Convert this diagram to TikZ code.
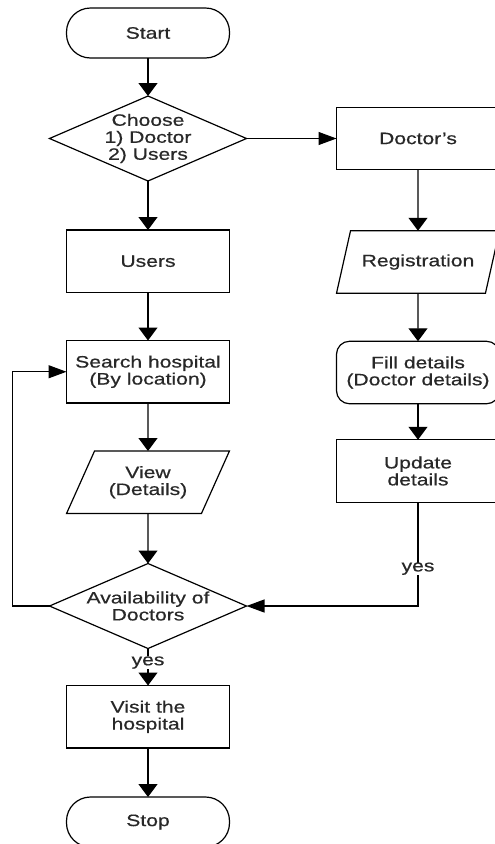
\documentclass[tikz,border=0pt]{standalone}
\usepackage{fontspec}
\setmainfont{Liberation Sans}[FakeStretch=1.28,FakeBold=0.6]
\usetikzlibrary{positioning,shapes.geometric,arrows.meta}
\definecolor{txtgray}{RGB}{40,40,40}

\tikzset{
  base/.style={draw, line width=1.2pt, outer sep=0pt, text=txtgray, align=center, inner sep=3pt,
    font=\fontsize{16.5pt}{17pt}\selectfont},
  terminal/.style={base, rectangle, rounded corners=24pt, minimum width=163pt, minimum height=50pt},
  process/.style={base, rectangle, minimum width=163pt, minimum height=62.5pt},
  roundproc/.style={process, rounded corners=13pt},
  io/.style={base, trapezium, trapezium left angle=60, trapezium right angle=120,
    trapezium stretches=true, minimum width=163pt, minimum height=62.5pt},
  decision/.style={base, diamond, aspect=2.32, inner sep=-4pt, minimum width=197pt, minimum height=85pt},
  vtip/.style={line width=1.2pt, -{Triangle[length=13pt,width=19pt]}},
  htip/.style={line width=1.2pt, -{Triangle[length=18pt,width=13pt]}},
  yeslbl/.style={fill=white, text=txtgray, inner sep=0pt, font=\fontsize{16.5pt}{17pt}\selectfont},
}

\begin{document}
\begin{tikzpicture}
  \useasboundingbox (0,0) rectangle (495pt,-844pt);

  % left column
  \node [terminal] (start) at (148pt,-33pt) {Start};
  \node [decision, below=38pt of start] (choose) {Choose\\1) Doctor\\2) Users};
  \node [process, below=49pt of choose] (users) {Users};
  \node [process, below=48pt of users] (search) {Search hospital\\(By location)};
  \node [io, below=48pt of search] (view) {View\\(Details)};
  \node [decision, below=50pt of view] (avail) {Availability of\\Doctors};
  \node [process, below=37pt of avail] (visit) {Visit the\\hospital};
  \node [terminal, below=49pt of visit] (stop) {Stop};

  % right column
  \node [process, right=90pt of choose] (doctors) {Doctor\symbol{"27}s};
  \node [io, below=61pt of doctors] (reg) {Registration};
  \node [roundproc, below=48pt of reg] (fill) {Fill details\\(Doctor details)};
  \node [process, below=36pt of fill] (update) {Update\\details};

  \draw [vtip] (start) -- (choose);
  \draw [vtip] (choose) -- (users);
  \draw [vtip] (users) -- (search);
  \draw [vtip] (search) -- (view);
  \draw [vtip] (view) -- (avail);
  \draw [vtip] (avail) -- node [yeslbl, pos=0.38] {yes} (visit);
  \draw [vtip] (visit) -- (stop);

  \draw [htip] (choose) -- (doctors);
  \draw [vtip] (doctors) -- (reg);
  \draw [vtip] (reg) -- (fill);
  \draw [vtip] (fill) -- (update);

  \draw [htip] (avail.west) -- ++(-37pt,0) |- (search.west);
  \draw [htip] (update.south) |- node [yeslbl, pos=0.32] {yes} (avail.east);
\end{tikzpicture}
\end{document}
